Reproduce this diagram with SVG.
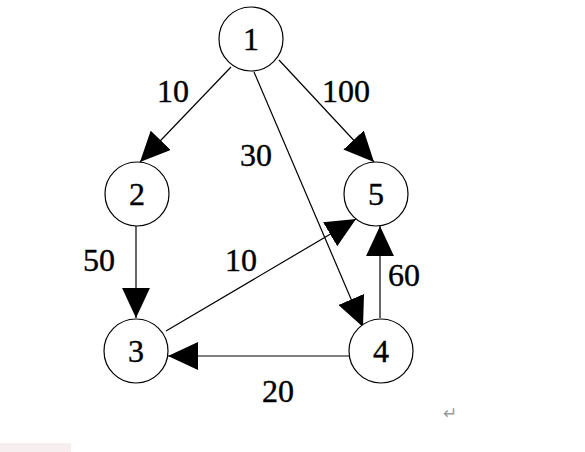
<svg xmlns="http://www.w3.org/2000/svg" width="585" height="452" viewBox="0 0 585 452">
<style>
.node circle{fill:#fff;stroke:#000;stroke-width:1.2}
.node text{font-family:"Liberation Serif",serif;font-size:32px;text-anchor:middle;fill:#000;stroke:#000;stroke-width:0.4}
.edge{stroke:#000;stroke-width:1.2;fill:none;marker-end:url(#ah)}
.lbl{font-family:"Liberation Serif",serif;font-size:32px;fill:#000;stroke:#000;stroke-width:0.4}
</style>
<defs>
<marker id="ah" markerUnits="userSpaceOnUse" markerWidth="30" markerHeight="28" viewBox="0 0 28 26" refX="28" refY="13" orient="auto">
<path d="M0,0 L28,13 L0,26 Z" fill="#000"/>
</marker>
</defs>
<rect width="585" height="452" fill="#fff"/>
<rect x="0" y="443" width="71" height="9" fill="#f7eef0"/>
<g id="edges">
<line class="edge" x1="231" y1="67" x2="140" y2="162"/>
<line class="edge" x1="279" y1="60" x2="374" y2="162"/>
<line class="edge" x1="254" y1="72" x2="363" y2="327"/>
<line class="edge" x1="166" y1="331" x2="356" y2="219"/>
<line class="edge" x1="136" y1="226" x2="136" y2="318"/>
<line class="edge" x1="380" y1="318" x2="380" y2="226"/>
<line class="edge" x1="349" y1="356" x2="168" y2="356"/>
</g>
<g id="labels">
<text class="lbl" x="157" y="102">10</text>
<text class="lbl" x="322" y="102">100</text>
<text class="lbl" x="240" y="166">30</text>
<text class="lbl" x="83" y="271">50</text>
<text class="lbl" x="225" y="271">10</text>
<text class="lbl" x="388" y="286">60</text>
<text class="lbl" x="262" y="402">20</text>
</g>
<g id="n1" class="node"><circle cx="251" cy="39" r="32"/><text x="251" y="50">1</text></g>
<g id="n2" class="node"><circle cx="137" cy="194" r="32"/><text x="137" y="205">2</text></g>
<g id="n5" class="node"><circle cx="376" cy="194" r="32"/><text x="376" y="205">5</text></g>
<g id="n3" class="node"><circle cx="136" cy="351" r="32"/><text x="136" y="362">3</text></g>
<g id="n4" class="node"><circle cx="381" cy="351" r="32"/><text x="381" y="362">4</text></g>
<text x="450" y="419" font-family="'DejaVu Sans',sans-serif" font-size="17" fill="#999" text-anchor="middle">↵</text>
</svg>
